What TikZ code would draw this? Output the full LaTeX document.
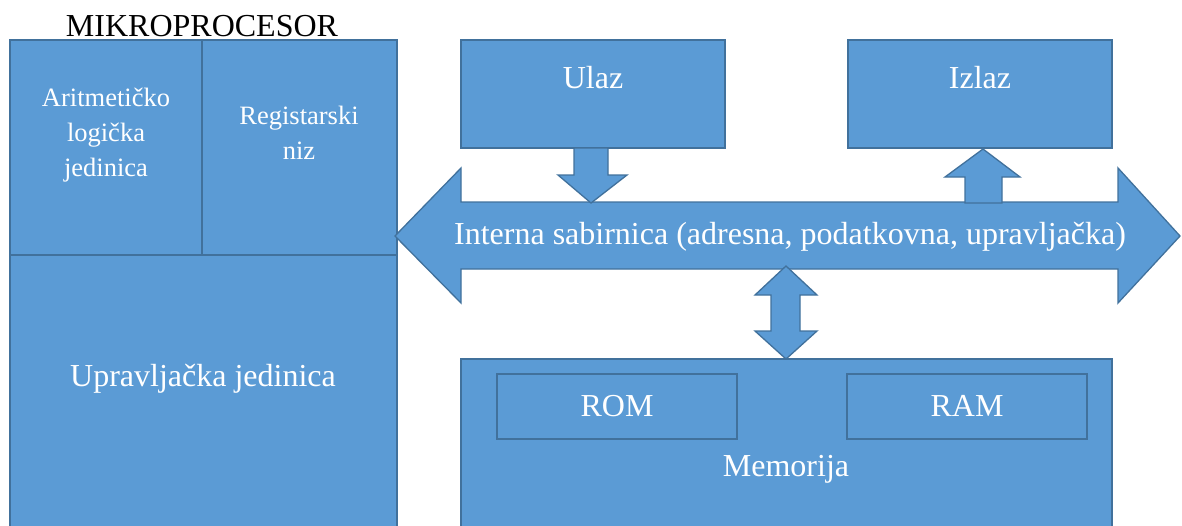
\documentclass[tikz,border=0pt]{standalone}
\usepackage{fontspec}
\setmainfont{Liberation Serif}
\definecolor{boxfill}{HTML}{5B9BD5}
\definecolor{boxline}{HTML}{41719C}
\begin{document}
\begin{tikzpicture}[x=1pt,y=-1pt,
  blk/.style={fill=boxfill, draw=boxline, line width=1.3pt, anchor=north west, inner sep=0pt, outer sep=0pt},
  innerbox/.style={draw=boxline, line width=2.3pt, anchor=north west, inner sep=0pt, outer sep=0pt},
  blockarrow/.style={fill=boxfill, draw=boxline, line width=1.3pt, line join=miter},
  lbl/.style={text=white, font=\fontsize{32}{38}\selectfont, inner sep=0pt, anchor=base},
  smalllbl/.style={text=white, font=\fontsize{26.5}{35}\selectfont, inner sep=0pt, align=center},
  titlelbl/.style={text=black, font=\fontsize{32}{38}\selectfont, inner sep=0pt, anchor=base}]
\useasboundingbox (0,0) rectangle (1182,525);
% processor
\node[blk, minimum width=192pt, minimum height=215pt] (alu) at (10,40) {};
\node[blk, minimum width=195pt, minimum height=215pt] (reg) at (202,40) {};
\node[blk, minimum width=387pt, minimum height=290pt] (cu) at (10,255) {};
% input / output
\node[blk, minimum width=264pt, minimum height=108pt] (ulaz) at (461,40) {};
\node[blk, minimum width=264pt, minimum height=108pt] (izlaz) at (848,40) {};
% memory
\node[blk, minimum width=651pt, minimum height=200pt] (mem) at (461,359) {};
\node[innerbox, minimum width=240pt, minimum height=65pt] (rom) at (497,374) {};
\node[innerbox, minimum width=240pt, minimum height=65pt] (ram) at (847,374) {};
% bus
\path[blockarrow] (395,236) -- (461,168) -- (461,202) -- (1118,202) -- (1118,168)
  -- (1180,236) -- (1118,303) -- (1118,269) -- (461,269) -- (461,303) -- cycle;
% input arrow
\path[blockarrow] (574,148) -- (608,148) -- (608,175) -- (627,175) -- (591,203)
  -- (558,175) -- (574,175) -- cycle;
% output arrow
\path[blockarrow] (965,203) -- (1002,203) -- (1002,177) -- (1020,177) -- (983,149)
  -- (945,177) -- (965,177) -- cycle;
% memory arrow
\path[blockarrow] (786,266) -- (817,295) -- (800,295) -- (800,331) -- (817,331)
  -- (786,359) -- (755,331) -- (771,331) -- (771,295) -- (755,295) -- cycle;
% texts
\node[titlelbl] (title) at (202,36) {MIKROPROCESOR};
\node[smalllbl] (alut) at (106,135) {Aritmetičko\\logička\\jedinica};
\node[smalllbl] (regt) at (299,132.5) {Registarski\\niz};
\node[lbl] (cut) at (203,386) {Upravljačka jedinica};
\node[lbl] (ulazt) at (593,88.5) {Ulaz};
\node[lbl] (izlazt) at (980,88.5) {Izlaz};
\node[lbl] (bust) at (790,244) {Interna sabirnica (adresna, podatkovna, upravljačka)};
\node[lbl] (romt) at (617,416) {ROM};
\node[lbl] (ramt) at (967,416) {RAM};
\node[lbl] (memt) at (786,476) {Memorija};
\end{tikzpicture}
\end{document}
